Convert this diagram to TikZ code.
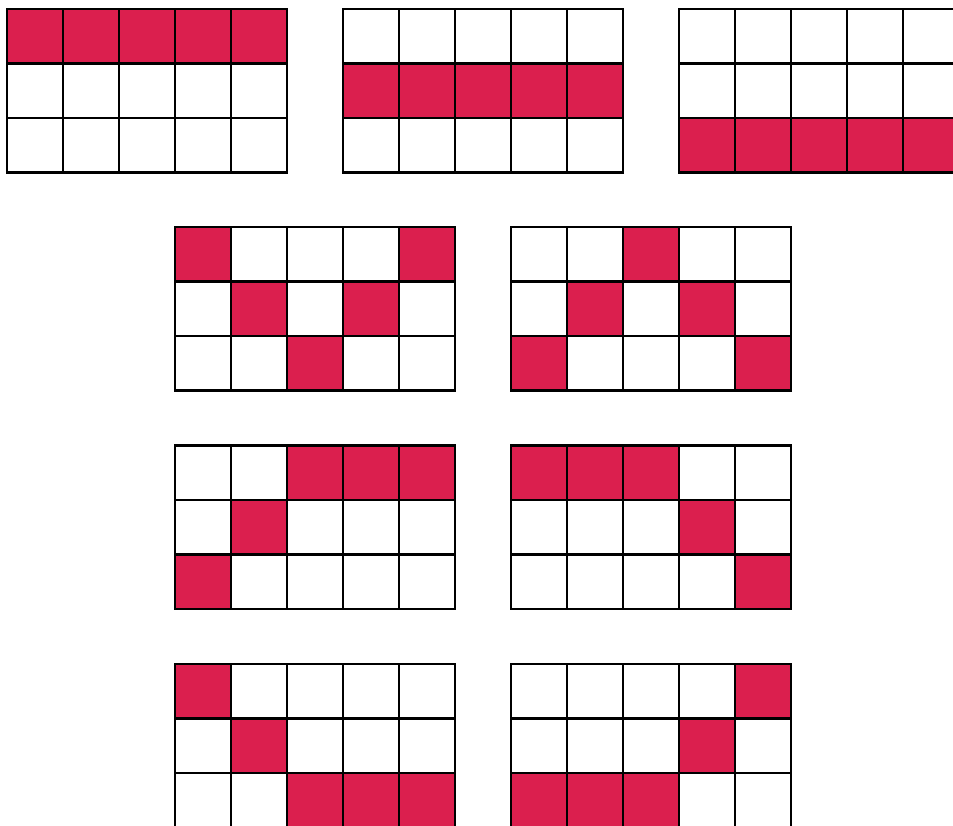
\documentclass[tikz,border=0pt]{standalone}
\definecolor{cellred}{RGB}{219,31,78}
\tikzset{
    hit/.style = {fill=cellred},
    gridline/.style = {line width=2.2pt, black, line cap=rect}
}

\begin{document}
\begin{tikzpicture}[x=0.75pt, y=-0.75pt]
        \useasboundingbox (0,0) rectangle (953,825);
        % Grids: corner x / corner y / red cells (col/row)
        \foreach \gx/\gy/\cells in {
            7/9/{0/0,1/0,2/0,3/0,4/0},
            343/9/{0/1,1/1,2/1,3/1,4/1},
            679/9/{0/2,1/2,2/2,3/2,4/2},
            175/227/{0/0,4/0,1/1,3/1,2/2},
            511/227/{2/0,1/1,3/1,0/2,4/2},
            175/445.5/{2/0,3/0,4/0,1/1,0/2},
            511/445.5/{0/0,1/0,2/0,3/1,4/2},
            175/664/{0/0,1/1,2/2,3/2,4/2},
            511/664/{4/0,3/1,0/2,1/2,2/2}}{
            % Filled cells
            \foreach \c/\r in \cells
                \fill[hit] ({\gx+\c*56},{\gy+\r*54.5}) rectangle ++(56,54.5);
            % Lines
            \foreach \i in {0,...,5}
                \draw[gridline] ({\gx+\i*56},\gy) -- ++(0,163.5);
            \foreach \j in {0,...,3}
                \draw[gridline] (\gx,{\gy+\j*54.5}) -- ++(280,0);
        }
    \end{tikzpicture}
\end{document}
